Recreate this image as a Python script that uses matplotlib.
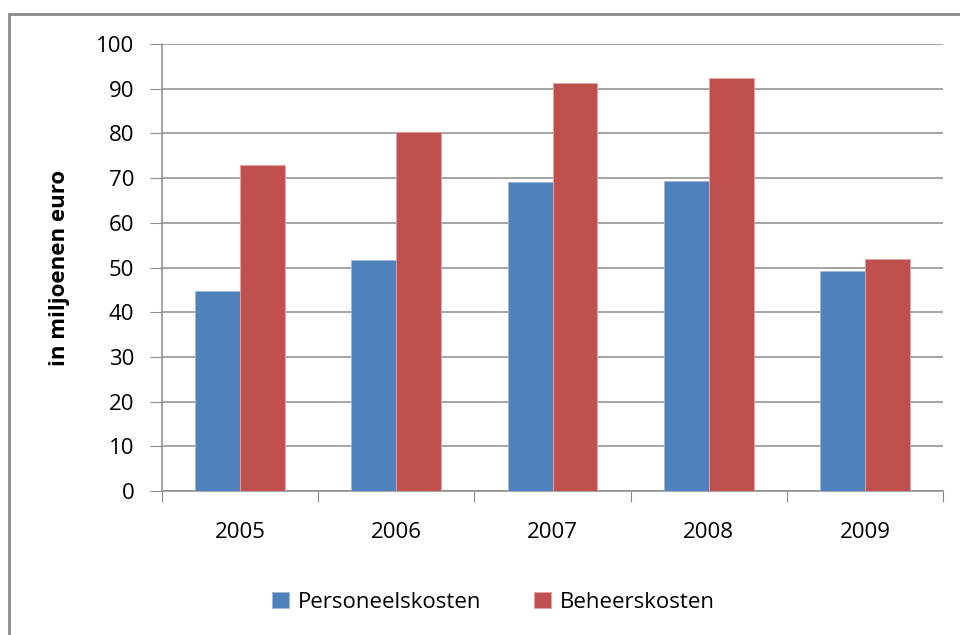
import matplotlib.pyplot as plt
import matplotlib.patches as mpatches
import numpy as np

years = ["2005", "2006", "2007", "2008", "2009"]
personeelskosten = [44.7, 51.6, 69.1, 69.4, 49.3]
beheerskosten = [72.9, 80.4, 91.3, 92.4, 51.9]
y_ticks = [0, 10, 20, 30, 40, 50, 60, 70, 80, 90, 100]

plt.rcParams["font.family"] = ["Open Sans", "DejaVu Sans"]

fig = plt.figure(figsize=(9.6, 6.35), dpi=100)
ax = fig.add_axes([162 / 960, 1 - 491 / 635, (943 - 162) / 960, (491 - 44) / 635])

x = np.arange(len(years))
w = 0.288
ax.bar(x - w / 2, personeelskosten, w, color="#4F81BD", edgecolor="#9DB8DC",
       linewidth=0.6, label="Personeelskosten", zorder=3)
ax.bar(x + w / 2, beheerskosten, w, color="#C0504D", edgecolor="#E3A6A4",
       linewidth=0.6, label="Beheerskosten", zorder=3)

ax.set_xlim(-0.5, len(years) - 0.5)
ax.set_ylim(0, 100)
ax.set_yticks(y_ticks)
ax.yaxis.grid(True, color="#8C8C8C", linewidth=1.1, zorder=0)

# category boundaries carry the tick marks, labels sit in the middle
ax.set_xticks(np.arange(-0.5, len(years), 1.0))
ax.set_xticklabels([])
ax.set_xticks(x, minor=True)
ax.set_xticklabels(years, minor=True)
ax.tick_params(axis="x", which="major", direction="out", length=8, color="#8C8C8C")
ax.tick_params(axis="x", which="minor", length=0, pad=22, labelsize=16)
ax.tick_params(axis="y", direction="out", length=9, color="#8C8C8C", pad=11, labelsize=16)

for s in ["top", "right"]:
    ax.spines[s].set_visible(False)
for s in ["left", "bottom"]:
    ax.spines[s].set_color("#8C8C8C")
    ax.spines[s].set_linewidth(1.1)

fig.text(60 / 960, 1 - 268 / 635, "in miljoenen euro", rotation=90, fontsize=16,
         fontweight="bold", ha="center", va="center")

fig.legend(loc="center", bbox_to_anchor=(0.514, 1 - 602 / 635), ncol=2, frameon=False,
           fontsize=16, handlelength=0.75, handleheight=0.75, columnspacing=2.4,
           handletextpad=0.4)

# outer chart frame (cut off at right and bottom)
frame = mpatches.Rectangle((9 / 960, -0.1), 1.2, 1 - 14 / 635 + 0.1,
                           transform=fig.transFigure, fill=False,
                           edgecolor="#8C8C8C", linewidth=2)
fig.patches.append(frame)

fig.savefig("out.png", dpi=100)
